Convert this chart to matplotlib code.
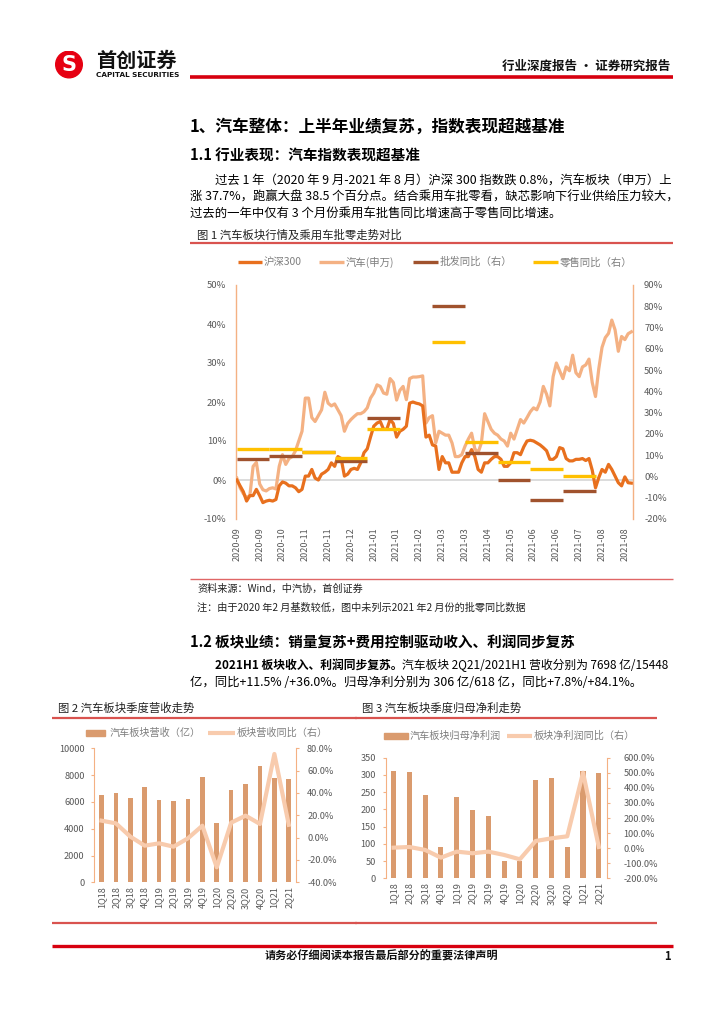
import numpy as np
import matplotlib
matplotlib.use('Agg')
import matplotlib.pyplot as plt
from matplotlib.lines import Line2D
from matplotlib.patches import Circle

plt.rcParams['font.family'] = ['Noto Sans CJK SC', 'DejaVu Sans']
plt.rcParams['axes.unicode_minus'] = False

# ---------------- data ----------------
date_labels = ['2020-09', '2020-09', '2020-10', '2020-11', '2020-11', '2020-12',
               '2021-01', '2021-01', '2021-02', '2021-03', '2021-03', '2021-04',
               '2021-05', '2021-06', '2021-06', '2021-07', '2021-08', '2021-08']

# cumulative change (%), sampled every 2 trading days
hs300 = [0.0, -1.5, -3.0, -5.4, -4.0, -4.0, -2.4, -4.0, -5.8, -5.4, -5.2, -5.4, -5.0,
         -1.5, -0.5, -0.8, -1.5, -1.5, -2.0, -3.0, -2.4, 1.0, 1.0, 2.7, 0.5, 0.0,
         1.5, 2.0, 2.7, 4.4, 3.5, 6.0, 5.5, 1.0, 1.5, 2.7, 3.0, 2.7, 4.4, 7.0,
         8.0, 11.0, 13.8, 14.6, 15.0, 13.0, 13.0, 15.5, 14.5, 11.0, 12.5, 13.0, 13.8,
         19.7, 20.0, 19.7, 19.5, 19.0, 11.0, 11.5, 9.0, 8.7, 2.7, 6.0, 4.4, 4.4,
         2.0, 2.0,
         2.0, 4.4, 6.0, 6.0, 7.8, 6.0, 2.7, 2.0, 4.4, 4.4, 5.3, 6.0, 6.0, 5.3,
         3.5, 3.5, 4.4, 7.0, 7.0, 6.5, 8.5, 10.0, 10.2, 10.0, 9.5, 9.0, 8.3, 7.5,
         5.3, 5.3, 6.0, 8.3, 8.0, 5.5, 4.9, 4.9, 5.3, 5.3, 5.5, 5.0, 5.5, 2.5,
         -2.0, 0.6, 2.7, 2.0, 4.0, 2.7, 1.0, -0.7, -1.5, 0.8, -0.7, -0.8]

auto_sw = [0.5, -2.0, -3.5, -4.5, -4.0, 3.5, 4.5, -1.0, -2.5, -2.8, -2.2, -2.0, -2.3,
           3.5, 6.5, 4.0, 5.5, 6.0, 7.5, 10.0, 12.5, 21.0, 21.0, 16.0, 15.0, 16.5,
           18.0, 22.5, 19.7, 19.0, 19.5, 18.0, 16.5, 12.5, 14.5, 15.5, 16.3, 17.0,
           17.0, 17.5, 18.5, 21.0, 22.3, 24.4, 24.0, 22.3, 22.0, 26.0, 25.0, 20.5,
           23.0, 24.0, 20.6, 26.0, 26.4, 26.4, 26.5, 26.7, 14.6, 16.0, 16.5, 9.5,
           12.5, 12.0, 11.5, 11.5, 9.5, 6.0,
           6.0, 6.5, 8.7, 10.5, 12.0, 8.0, 7.0, 9.5, 17.0, 15.0, 13.0, 12.0, 11.5,
           10.5, 10.0, 8.7, 12.0, 10.5, 13.0, 15.5, 14.6, 16.0, 17.5, 18.5, 18.0,
           20.0, 24.0, 22.0, 19.0, 26.5, 30.0, 28.0, 26.0, 29.0, 28.0, 32.0, 27.5,
           26.5, 29.0, 29.5, 31.0, 25.0, 21.4, 28.5, 34.0, 36.5, 37.6, 41.0, 38.5,
           33.0, 36.8, 36.0, 37.5, 38.0]

months = ['2020-09', '2020-10', '2020-11', '2020-12', '2021-01', '2021-02',
          '2021-03', '2021-04', '2021-05', '2021-06', '2021-07']
wholesale_yoy = [8.1, 9.4, 11.7, 7.4, 27.4, np.nan, 80.0, 11.1, -1.6, -11.0, -6.7]
retail_yoy = [12.8, 13.1, 11.3, 8.9, 22.5, np.nan, 63.4, 16.4, 6.6, 3.3, 0.3]

quarters = ['1Q18', '2Q18', '3Q18', '4Q18', '1Q19', '2Q19', '3Q19', '4Q19',
            '1Q20', '2Q20', '3Q20', '4Q20', '1Q21', '2Q21']
revenue = [6550, 6700, 6300, 7100, 6150, 6100, 6200, 7850, 4450, 6900, 7350, 8700, 7750, 7698]
revenue_yoy = [15.2, 12.8, 0.9, -7.2, -5.1, -8.1, -0.6, 10.7, -26.6, 13.4, 19.7, 12.2, 74.9, 11.5]
profit = [312, 308, 241, 92, 237, 198, 181, 50, 51, 285, 291, 90, 312, 306]
profit_yoy = [3.3, 7.8, -12, -63, -23, -34, -23, -45, -74, 47.5, 65, 78.5, 500.6, 7.8]

# ---------------- page helpers ----------------
W, H = 724, 1024
fig = plt.figure(figsize=(W / 100, H / 100), dpi=100)
fig.patch.set_facecolor('white')


def fx(x):
    return x / W


def fy(y):
    return 1 - y / H


def T(x, y, s, size, **kw):
    kw.setdefault('va', 'center')
    return fig.text(fx(x), fy(y), s, fontsize=size, **kw)


def HL(x0, x1, y, color, lw):
    fig.add_artist(Line2D([fx(x0), fx(x1)], [fy(y), fy(y)], color=color, lw=lw,
                          transform=fig.transFigure, solid_capstyle='butt'))


def AX(l, t, r, b):
    return fig.add_axes([fx(l), fy(b), (r - l) / W, (b - t) / H])


RED = '#D7000F'
LRED = '#D9534F'
GRAY = '#595959'
LGRAY = '#7F7F7F'

# ---------------- header ----------------
axl = AX(55, 50, 83, 79)
axl.set_xlim(-1, 1)
axl.set_ylim(-1, 1)
axl.set_aspect('equal')
axl.axis('off')
axl.add_patch(Circle((0, 0), 0.95, color='#E60012'))
axl.text(0, -0.02, 'S', color='white', fontsize=15, fontweight='bold',
         ha='center', va='center', family=['DejaVu Sans'])
T(96, 60, '首创证券', 14.5, fontweight='bold', color='#111111')
T(96, 75, 'CAPITAL SECURITIES', 5.2, fontweight='bold', color='#111111', family=['DejaVu Sans'])
HL(190, 673, 77, RED, 2.6)
T(670, 66, '行业深度报告 · 证券研究报告', 9, fontweight='bold', ha='right', color='#111111')

# ---------------- section 1 text ----------------
T(190, 127, '1、汽车整体：上半年业绩复苏，指数表现超越基准', 12, fontweight='bold')
T(190, 155.5, '1.1 行业表现：汽车指数表现超基准', 10.5, fontweight='bold')
T(215, 181.5, '过去 1 年（2020 年 9 月-2021 年 8 月）沪深 300 指数跌 0.8%，汽车板块（申万）上', 8.9)
T(190, 197.5, '涨 37.7%，跑赢大盘 38.5 个百分点。结合乘用车批零看，缺芯影响下行业供给压力较大，', 8.9)
T(190, 213, '过去的一年中仅有 3 个月份乘用车批售同比增速高于零售同比增速。', 8.9)

T(197, 235.5, '图 1 汽车板块行情及乘用车批零走势对比', 8.2, color='#222222')
HL(190, 673, 243, LRED, 1.6)

# ---------------- figure 1 ----------------
C_HS = '#E8701E'
C_AUTO = '#F4B183'
C_WH = '#A0522D'
C_RT = '#FFC000'
SPINE = '#F4B183'

ax = AX(236, 285, 633, 519)
x_daily = np.arange(len(hs300)) * 2
ax.axhline(0, color='#D9D9D9', lw=1.3, zorder=1)
ax.plot(x_daily, hs300, color=C_HS, lw=2.3, zorder=3, solid_joinstyle='round')
ax.plot(x_daily, auto_sw, color=C_AUTO, lw=2.3, zorder=2, solid_joinstyle='round')
ax.set_xlim(-0.5, 243)
ax.set_ylim(-10, 50)
ax.set_yticks(np.arange(-10, 51, 10))
ax.set_yticklabels([f'{v}%' for v in range(-10, 51, 10)])
ax.set_xticks(np.arange(len(date_labels)) * 14)
ax.set_xticklabels(date_labels, rotation=90)
ax.tick_params(axis='x', length=0, labelsize=6.5, labelcolor=GRAY, pad=6)
ax.tick_params(axis='y', length=0, labelsize=6.8, labelcolor=GRAY, pad=7)
for s in ['top', 'bottom', 'right']:
    ax.spines[s].set_visible(False)
ax.spines['left'].set_color(SPINE)
ax.spines['left'].set_linewidth(1.0)

ax2 = ax.twinx()
x0 = np.arange(len(months)) * 20
wh = np.array(wholesale_yoy)
rt = np.array(retail_yoy)
m = ~np.isnan(wh)
ax2.hlines(wh[m], x0[m], x0[m] + 20, color=C_WH, lw=2.4)
m = ~np.isnan(rt)
ax2.hlines(rt[m], x0[m], x0[m] + 20, color=C_RT, lw=2.4)
ax2.set_ylim(-20, 90)
ax2.set_yticks(np.arange(-20, 91, 10))
ax2.set_yticklabels([f'{v}%' for v in range(-20, 91, 10)])
ax2.tick_params(axis='y', length=0, labelsize=6.8, labelcolor=GRAY, pad=8)
for s in ['top', 'bottom', 'left']:
    ax2.spines[s].set_visible(False)
ax2.spines['right'].set_color(SPINE)
ax2.spines['right'].set_linewidth(1.0)

# legend (manual, figure coords)
leg = [(238, 262, C_HS, '沪深300'), (319, 344, C_AUTO, '汽车(申万)'),
       (413, 438, C_WH, '批发同比（右）'), (533, 558, C_RT, '零售同比（右）')]
for a, b, c, lab in leg:
    HL(a, b, 262, c, 2.4)
    T(b + 2, 262, lab, 7.5, color=LGRAY)

HL(190, 673, 579, '#E06666', 1.0)
T(197, 589, '资料来源：Wind，中汽协，首创证券', 7.3, color='#222222', style='italic')
T(197, 608, '注：由于2020 年2 月基数较低，图中未列示2021 年2 月份的批零同比数据', 7.3,
  color='#222222', style='italic')

# ---------------- section 1.2 text ----------------
T(190, 642, '1.2 板块业绩：销量复苏+费用控制驱动收入、利润同步复苏', 10.5, fontweight='bold')
tb = T(215, 665, '2021H1 板块收入、利润同步复苏。', 8.5, fontweight='bold')
fig.canvas.draw()
r = fig.canvas.get_renderer()
bb = tb.get_window_extent(r)
T(bb.x1, 665, '汽车板块 2Q21/2021H1 营收分别为 7698 亿/15448', 8.5)
T(190, 682, '亿，同比+11.5% /+36.0%。归母净利分别为 306 亿/618 亿，同比+7.8%/+84.1%。', 8.9)

# ---------------- figure 2 & 3 titles ----------------
T(58, 708, '图 2 汽车板块季度营收走势', 8.2, color='#222222')
HL(52, 357, 718, LRED, 1.6)
T(362, 708, '图 3 汽车板块季度归母净利走势', 8.2, color='#222222')
HL(355, 657, 718, LRED, 1.6)
HL(52, 357, 923, LRED, 1.6)
HL(355, 657, 923, LRED, 1.6)

C_BAR = '#DA9B6E'
C_LINE = '#F8CBAD'


def quarter_chart(box, bars, line, ylim, yticks, ylab, y2lim, y2ticks, y2lab, lpad, rpad):
    a = AX(*box)
    xq = np.arange(len(quarters))
    a.bar(xq, bars, width=0.32, color=C_BAR, zorder=2)
    a.set_xlim(-0.5, len(quarters) - 0.5)
    a.set_ylim(*ylim)
    a.set_yticks(yticks)
    a.set_yticklabels(ylab)
    a.set_xticks(xq)
    a.set_xticklabels(quarters, rotation=90)
    a.tick_params(axis='x', length=0, labelsize=6.6, labelcolor=GRAY, pad=3)
    a.tick_params(axis='y', length=2, color=SPINE, labelsize=6.6, labelcolor=GRAY, pad=lpad)
    for s in ['top', 'bottom', 'right']:
        a.spines[s].set_visible(False)
    a.spines['left'].set_color(SPINE)
    b = a.twinx()
    b.plot(xq, line, color=C_LINE, lw=3.0, solid_joinstyle='round')
    b.set_ylim(*y2lim)
    b.set_yticks(y2ticks)
    b.set_yticklabels(y2lab)
    b.tick_params(axis='y', length=2, color=SPINE, labelsize=6.6, labelcolor=GRAY, pad=rpad)
    for s in ['top', 'bottom', 'left']:
        b.spines[s].set_visible(False)
    b.spines['right'].set_color(SPINE)
    return a, b


quarter_chart((94.3, 748.3, 296, 882.3), revenue, revenue_yoy,
              (0, 10000), np.arange(0, 10001, 2000), [str(v) for v in range(0, 10001, 2000)],
              (-40, 80), np.arange(-40, 81, 20), [f'{v:.1f}%' for v in range(-40, 81, 20)], 5, 6)
quarter_chart((385.7, 757.7, 606.7, 878.3), profit, profit_yoy,
              (0, 350), np.arange(0, 351, 50), [str(v) for v in range(0, 351, 50)],
              (-200, 600), np.arange(-200, 601, 100), [f'{v:.1f}%' for v in range(-200, 601, 100)], 5, 10)

# legends of figures 2 & 3
fig.add_artist(plt.Rectangle((fx(86), fy(735.5)), 19 / W, 6 / H, color=C_BAR, transform=fig.transFigure))
T(110, 732.5, '汽车板块营收（亿）', 7.3, color=LGRAY)
HL(208, 235, 732.5, C_LINE, 3.0)
T(237, 732.5, '板块营收同比（右）', 7.3, color=LGRAY)

fig.add_artist(plt.Rectangle((fx(384), fy(738.5)), 24 / W, 6 / H, color=C_BAR, transform=fig.transFigure))
T(410, 735.5, '汽车板块归母净利润', 7.3, color=LGRAY)
HL(507, 532, 735.5, C_LINE, 3.0)
T(534, 735.5, '板块净利润同比（右）', 7.3, color=LGRAY)

# ---------------- footer ----------------
HL(52, 673, 946, RED, 2.4)
T(381, 956, '请务必仔细阅读本报告最后部分的重要法律声明', 8, fontweight='bold', ha='center', color='#111111')
T(671, 956, '1', 8, fontweight='bold', ha='right', color='#111111')

fig.savefig('out.png', dpi=100, facecolor='white')
